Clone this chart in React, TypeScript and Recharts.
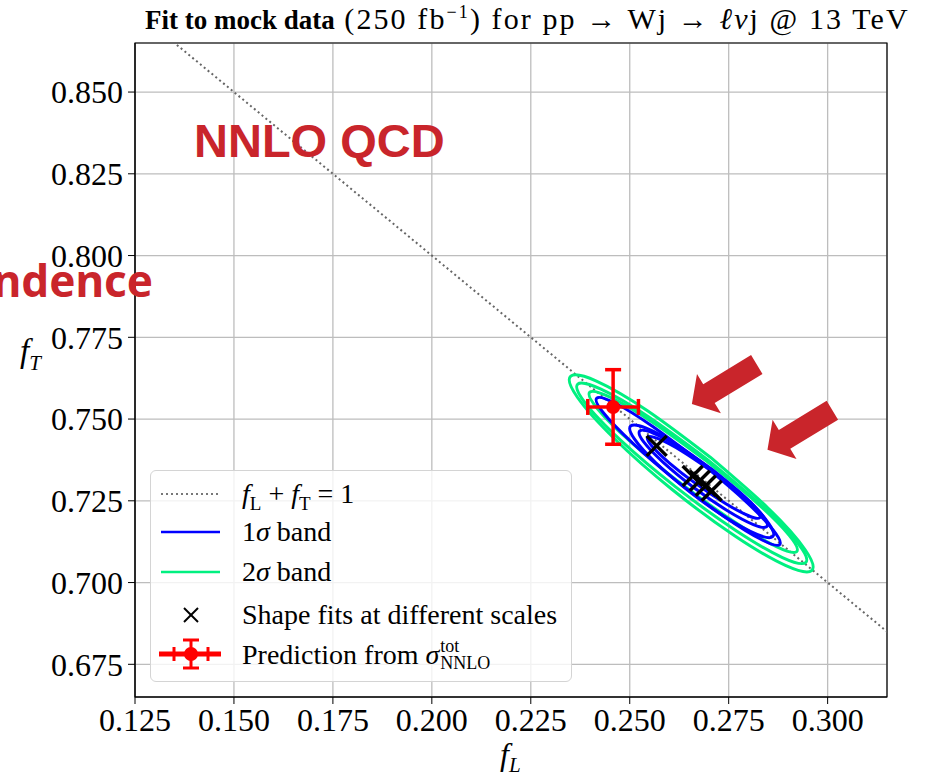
import React from "react";
import {
  ComposedChart,
  Line,
  Scatter,
  XAxis,
  YAxis,
  CartesianGrid,
  ErrorBar,
  ReferenceArea,
  Legend,
} from "recharts";

const SERIF = '"Liberation Serif", "DejaVu Serif", serif';
const ANNOT = "#c9252b";

const xTicks = [0.125, 0.15, 0.175, 0.2, 0.225, 0.25, 0.275, 0.3];
const yTicks = [0.675, 0.7, 0.725, 0.75, 0.775, 0.8, 0.825, 0.85];

// f_L + f_T = 1
const sumLine = [
  { x: 0.12, y: 0.88 },
  { x: 0.32, y: 0.68 },
];

// 2 sigma contours
const green1: [number, number][] = [
  [0.27035, 0.73833], [0.25448, 0.75254], [0.24159, 0.76161], [0.2351, 0.76312],
  [0.23677, 0.75667], [0.24614, 0.74398], [0.26071, 0.72845], [0.27658, 0.71424],
  [0.28947, 0.70517], [0.29596, 0.70366], [0.29429, 0.71011], [0.28492, 0.7228],
  [0.27035, 0.73833],
];
const green2: [number, number][] = [
  [0.26965, 0.7376], [0.25472, 0.75069], [0.24273, 0.75913], [0.23687, 0.76068],
  [0.23873, 0.75491], [0.2478, 0.74339], [0.26167, 0.72918], [0.2766, 0.71609],
  [0.28859, 0.70765], [0.29445, 0.7061], [0.29259, 0.71187], [0.28352, 0.72339],
  [0.26965, 0.7376],
];
const green3: [number, number][] = [
  [0.26925, 0.73728], [0.25575, 0.74902], [0.24502, 0.75668], [0.23991, 0.75823],
  [0.2418, 0.75324], [0.25019, 0.74306], [0.26283, 0.7304], [0.27633, 0.71866],
  [0.28706, 0.711], [0.29217, 0.70945], [0.29028, 0.71444], [0.28189, 0.72462],
  [0.26925, 0.73728],
];

// 1 sigma contours
const blue1: [number, number][] = [
  [0.26766, 0.73697], [0.25572, 0.74778], [0.24622, 0.7549], [0.24168, 0.75641],
  [0.24334, 0.75192], [0.25074, 0.74264], [0.2619, 0.73103], [0.27384, 0.72022],
  [0.28334, 0.7131], [0.28788, 0.71159], [0.28622, 0.71608], [0.27882, 0.72536],
  [0.26766, 0.73697],
];
const blue2: [number, number][] = [
  [0.27121, 0.73416], [0.26183, 0.7422], [0.25417, 0.74721], [0.25025, 0.74788],
  [0.25113, 0.74401], [0.25659, 0.73664], [0.26515, 0.72774], [0.27453, 0.7197],
  [0.28219, 0.71469], [0.28611, 0.71402], [0.28523, 0.71789], [0.27977, 0.72526],
  [0.27121, 0.73416],
];
const blue3: [number, number][] = [
  [0.27098, 0.73435], [0.26264, 0.74132], [0.2559, 0.74571], [0.25254, 0.74635],
  [0.25348, 0.74307], [0.25846, 0.73674], [0.26616, 0.72907], [0.2745, 0.7221],
  [0.28124, 0.71771], [0.2846, 0.71707], [0.28366, 0.72035], [0.27868, 0.72668],
  [0.27098, 0.73435],
];
const blue4: [number, number][] = [
  [0.27051, 0.73425], [0.2632, 0.74015], [0.25735, 0.74391], [0.25455, 0.74452],
  [0.25553, 0.74183], [0.26004, 0.73655], [0.26687, 0.73009], [0.27418, 0.72419],
  [0.28003, 0.72043], [0.28283, 0.71982], [0.28185, 0.72251], [0.27734, 0.72779],
  [0.27051, 0.73425],
];

const scaleFits = [
  { x: 0.2568, y: 0.7418 },
  { x: 0.2659, y: 0.7326 },
  { x: 0.2677, y: 0.7311 },
  { x: 0.2692, y: 0.7296 },
  { x: 0.2707, y: 0.7281 },
];

const prediction = [{ x: 0.2458, y: 0.7537, ex: 0.0064, ey: 0.0114 }];

// tips of the two annotation arrows
const arrowTips = [
  { x: 0.2657, y: 0.7546 },
  { x: 0.2848, y: 0.7406 },
];

const toPts = (a: [number, number][]) => a.map(([x, y]) => ({ x, y }));

const greens = [green1, green2, green3];
const blues = [blue1, blue2, blue3, blue4];

const XMark = (p: any) => {
  const { cx, cy } = p;
  const r = 10;
  return (
    <g stroke="#000" strokeWidth={3.5}>
      <line x1={cx - r} y1={cy - r} x2={cx + r} y2={cy + r} />
      <line x1={cx - r} y1={cy + r} x2={cx + r} y2={cy - r} />
    </g>
  );
};

const RedDot = (p: any) => <circle cx={p.cx} cy={p.cy} r={7} fill="#ff0000" />;

const arrowShape: [number, number][] = [
  [0, 0], [20, -23], [20, -11], [76, -11], [76, 11], [20, 11], [20, 23],
];
const Arrow = (p: any) => {
  const { cx, cy } = p;
  const c = 0.854;
  const s = 0.52;
  const pts = arrowShape
    .map(([a, q]) => `${cx + a * c + q * s},${cy - a * s + q * c}`)
    .join(" ");
  return <polygon points={pts} fill={ANNOT} />;
};

const tickStyle = { fill: "#000", fontSize: 32, fontFamily: SERIF };

const LegendBox = () => {
  const row = (top: number, icon: React.ReactNode, label: React.ReactNode) => (
    <div style={{ position: "absolute", left: 0, top: top - 20, height: 40, width: "100%" }}>
      <svg width={80} height={40} style={{ position: "absolute", left: 0, top: 0 }}>
        {icon}
      </svg>
      <div style={{ position: "absolute", left: 91, top: 4, lineHeight: "32px", whiteSpace: "nowrap" }}>{label}</div>
    </div>
  );
  return (
    <div
      style={{
        position: "relative",
        width: 422,
        height: 212,
        boxSizing: "border-box",
        border: "1.5px solid #d4d4d4",
        borderRadius: 6,
        background: "rgba(255,255,255,0.8)",
        fontFamily: SERIF,
        fontSize: 28,
        color: "#000",
        textAlign: "left",
      }}
    >
      {row(
        23,
        <line x1={10} y1={20} x2={69} y2={20} stroke="#777" strokeWidth={2} strokeDasharray="2 3" />,
        <span>
          <i>f</i>
          <sub style={{ fontSize: 19 }}>L</sub> + <i>f</i>
          <sub style={{ fontSize: 19 }}>T</sub> = 1
        </span>
      )}
      {row(61, <line x1={10} y1={20} x2={69} y2={20} stroke="#0000ff" strokeWidth={2.5} />, <span>1<i>σ</i> band</span>)}
      {row(101, <line x1={10} y1={20} x2={69} y2={20} stroke="#00f080" strokeWidth={2.5} />, <span>2<i>σ</i> band</span>)}
      {row(
        144,
        <g stroke="#000" strokeWidth={2}>
          <line x1={33} y1={13} x2={47} y2={27} />
          <line x1={33} y1={27} x2={47} y2={13} />
        </g>,
        <span>Shape fits at different scales</span>
      )}
      {row(
        183,
        <g stroke="#ff0000" strokeWidth={3}>
          <line x1={8} y1={20} x2={70} y2={20} strokeWidth={5} />
          <line x1={23} y1={13} x2={23} y2={27} />
          <line x1={57} y1={13} x2={57} y2={27} />
          <line x1={40} y1={6} x2={40} y2={34} />
          <line x1={32} y1={6} x2={48} y2={6} />
          <line x1={32} y1={34} x2={48} y2={34} />
          <circle cx={40} cy={20} r={7} fill="#ff0000" stroke="none" />
        </g>,
        <span style={{ display: "inline-flex", alignItems: "center" }}>
          Prediction from&nbsp;<i>σ</i>
          <span style={{ display: "inline-flex", flexDirection: "column", fontSize: 18, lineHeight: "17px", marginLeft: 1 }}>
            <span>tot</span>
            <span>NNLO</span>
          </span>
        </span>
      )}
    </div>
  );
};

export default function App() {
  return (
    <div style={{ position: "absolute", left: 0, top: 0, width: 925, height: 773, background: "#fff", overflow: "hidden" }}>
      <ComposedChart width={925} height={773} margin={{ top: 43, right: 38, bottom: 16, left: 55 }}>
        <CartesianGrid stroke="#bdbdbd" strokeWidth={1.3} />
        <XAxis
          type="number"
          dataKey="x"
          domain={[0.125, 0.315]}
          ticks={xTicks}
          allowDataOverflow
          height={60}
          tickSize={7}
          tickMargin={4}
          stroke="#000"
          tick={tickStyle}
          tickFormatter={(v: number) => v.toFixed(3)}
        />
        <YAxis
          type="number"
          dataKey="y"
          domain={[0.665, 0.865]}
          ticks={yTicks}
          allowDataOverflow
          width={80}
          tickSize={7}
          tickMargin={5}
          stroke="#000"
          tick={tickStyle}
          tickFormatter={(v: number) => v.toFixed(3)}
        />
        <ReferenceArea x1={0.125} x2={0.315} y1={0.665} y2={0.865} fill="none" stroke="#000" strokeWidth={1.2} />
        <Line
          data={sumLine}
          dataKey="y"
          stroke="#666"
          strokeWidth={2}
          strokeDasharray="2 3"
          dot={false}
          activeDot={false}
          legendType="none"
          isAnimationActive={false}
        />
        {greens.map((g, i) => (
          <Line
            key={"g" + i}
            data={toPts(g)}
            dataKey="y"
            type="natural"
            stroke="#00f080"
            strokeWidth={3}
            dot={false}
            activeDot={false}
            legendType="none"
            isAnimationActive={false}
          />
        ))}
        {blues.map((b, i) => (
          <Line
            key={"b" + i}
            data={toPts(b)}
            dataKey="y"
            type="natural"
            stroke="#0000ff"
            strokeWidth={3}
            dot={false}
            activeDot={false}
            legendType="none"
            isAnimationActive={false}
          />
        ))}
        <Scatter data={scaleFits} shape={XMark} legendType="none" isAnimationActive={false} />
        <Scatter data={prediction} shape={RedDot} legendType="none" isAnimationActive={false}>
          <ErrorBar dataKey="ex" direction="x" width={8} stroke="#ff0000" strokeWidth={3.5} />
          <ErrorBar dataKey="ey" direction="y" width={8} stroke="#ff0000" strokeWidth={3.5} />
        </Scatter>
        <Scatter data={arrowTips} shape={Arrow} legendType="none" isAnimationActive={false} />
        <Legend
          layout="vertical"
          align="center"
          verticalAlign="middle"
          content={() => <LegendBox />}
          wrapperStyle={{ left: 150, top: 470, width: 422, height: 212 }}
        />
      </ComposedChart>

      <div
        style={{
          position: "absolute",
          left: 145,
          top: 0,
          whiteSpace: "nowrap",
          fontFamily: SERIF,
          fontSize: 30,
          letterSpacing: 2.1,
          lineHeight: "38px",
          color: "#000",
        }}
      >
        <b style={{ fontSize: 27, letterSpacing: 0 }}>Fit to mock data</b> (250 fb
        <sup style={{ fontSize: 18, lineHeight: 0 }}>−1</sup>) for pp → Wj → <i>ℓν</i>j @ 13 TeV
      </div>
      <div style={{ position: "absolute", left: 500, top: 737, lineHeight: "34px", fontFamily: SERIF, fontSize: 32, fontStyle: "italic" }}>
        f<sub style={{ fontSize: 21, lineHeight: 0 }}>L</sub>
      </div>
      <div style={{ position: "absolute", left: 20, top: 334, lineHeight: "34px", fontFamily: SERIF, fontSize: 33, fontStyle: "italic" }}>
        f<sub style={{ fontSize: 21, lineHeight: 0 }}>T</sub>
      </div>
      <div
        style={{
          position: "absolute",
          left: 194,
          top: 113,
          fontFamily: '"Liberation Sans", Arial, sans-serif',
          fontWeight: 700,
          fontSize: 47,
          color: ANNOT,
          whiteSpace: "nowrap",
        }}
      >
        NNLO QCD
      </div>
      <div
        style={{
          position: "absolute",
          right: 925 - 153,
          top: 250,
          fontFamily: '"Noto Sans", "Open Sans", sans-serif',
          fontWeight: 700,
          fontSize: 44,
          color: ANNOT,
          whiteSpace: "nowrap",
        }}
      >
        ndence
      </div>
    </div>
  );
}
